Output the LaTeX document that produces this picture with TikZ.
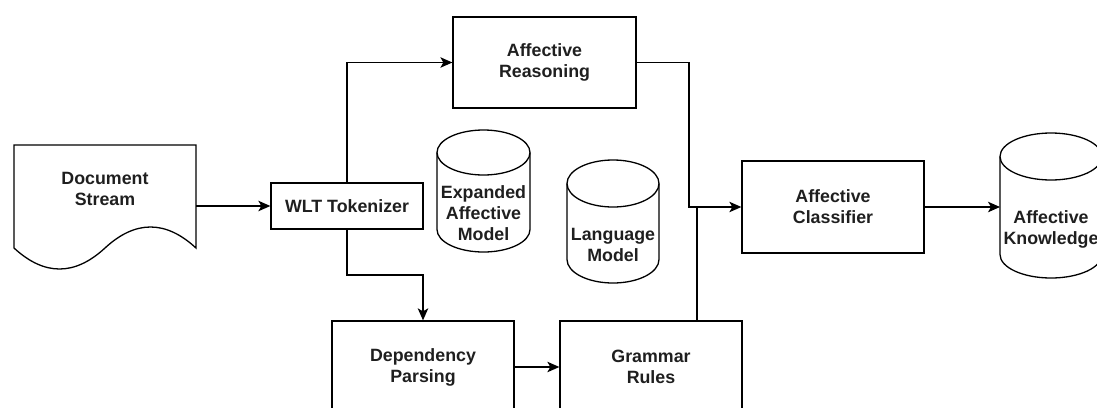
\documentclass[tikz,border=0pt]{standalone}
\usepackage{fontspec}
\setmainfont{Liberation Sans}
\usetikzlibrary{arrows.meta}
\newcommand\cylout[3]{%
  \draw ([yshift=#3]#1.north west) -- ([yshift=#3]#1.south west)
    arc[start angle=180,end angle=360,x radius=#2,y radius=#3]
    -- ([yshift=#3]#1.north east)
    arc[start angle=0,end angle=180,x radius=#2,y radius=#3] -- cycle;
  \draw ([yshift=#3]#1.north west) arc[start angle=180,end angle=360,x radius=#2,y radius=#3];}
\begin{document}
\begin{tikzpicture}[x=1pt,y=-1pt,line width=1.3pt,
  lbl/.style={font=\bfseries\fontsize{17.8}{21}\selectfont,text=black!88,align=center,inner sep=0pt},
  box/.style={lbl,draw,rectangle},
  plain/.style={lbl,rectangle,outer sep=0pt},
  arr/.style={-{Stealth[length=12pt,width=10.5pt,inset=3pt]}}]
\useasboundingbox (0,0) rectangle (1097,407);
\clip (0,0) rectangle (1097,407);
% document
\node[plain,minimum width=182pt,minimum height=88pt] (doc) at (105,189) {Document\\Stream};
\draw (doc.north west) -- (doc.north east) -- (196,248)
  .. controls (165.7,220) and (135.3,220) .. (105,248)
  .. controls (74.7,276) and (44.3,276) .. (14,248) -- cycle;
% boxes
\node[box,minimum width=152pt,minimum height=46pt] (wlt) at (347,206) {WLT Tokenizer};
\node[box,minimum width=183pt,minimum height=91pt] (ar) at (544.5,62.5) {Affective\\Reasoning};
\node[box,minimum width=182pt,minimum height=92pt] (cls) at (833,207) {Affective\\Classifier};
\node[box,minimum width=182pt,minimum height=92pt] (dep) at (423,367) {Dependency\\Parsing};
\node[box,minimum width=182pt,minimum height=92pt] (gr) at (651,367) {Grammar\\Rules};
% cylinders
\node[plain,minimum width=93pt,minimum height=77pt] (eam) at (483.5,213.5) {Expanded\\Affective\\Model};
\cylout{eam}{46.5pt}{22.5pt}
\node[plain,minimum width=92pt,minimum height=76pt] (lm) at (613,245) {Language\\Model};
\cylout{lm}{46pt}{23.5pt}
\node[plain,minimum width=102pt,minimum height=98pt] (akn) at (1051,229) {Affective\\Knowledge};
\cylout{akn}{51pt}{23.5pt}
% junctions
\coordinate (jr) at (689,207);
\coordinate (jg) at (697,207);
\coordinate (jd) at (347,275);
% connectors
\draw[arr] (doc.east |- wlt.west) -- (wlt.west);
\draw[arr] (wlt.north) |- (ar.west);
\draw[arr] (ar.east) -| (jr) -- (cls.west);
\draw[arr] (wlt.south) -- (jd) -| (dep.north);
\draw[arr] (dep.east) -- (gr.west);
\draw (jg |- gr.north) -- (jg);
\draw[arr] (cls.east) -- (cls.east -| akn.west);
\end{tikzpicture}
\end{document}
